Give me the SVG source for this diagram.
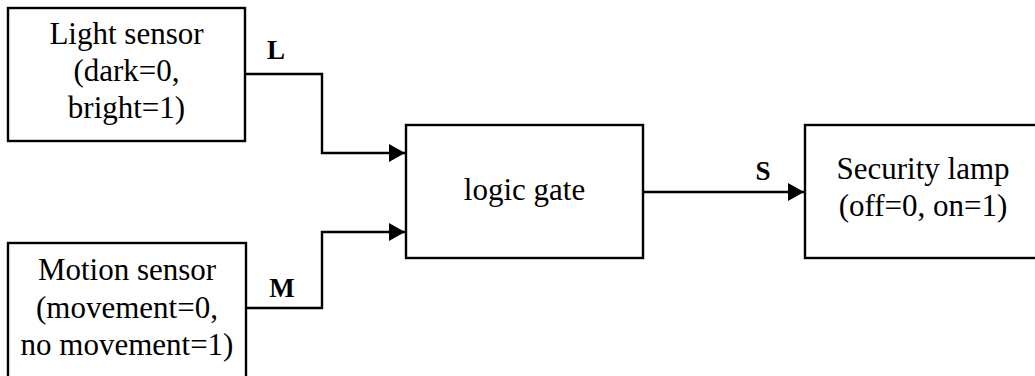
<svg xmlns="http://www.w3.org/2000/svg" width="1035" height="376" viewBox="0 0 1035 376">
<style>
.box{fill:#fff;stroke:#000;stroke-width:2.4}
.t{font-size:31px;fill:#000;text-anchor:middle}
.lbl{font-size:27px;font-weight:bold;fill:#000;text-anchor:middle}
.wire{fill:none;stroke:#000;stroke-width:2.4}
</style>
<defs>
<marker id="arr" markerUnits="userSpaceOnUse" markerWidth="17" markerHeight="18" refX="16" refY="9" orient="auto">
<path d="M0,0 L16,9 L0,18 Z" fill="#000"/>
</marker>
</defs>
<rect width="1035" height="376" fill="#fff"/>
<g font-family="Liberation Serif, Times New Roman, serif">
<g id="light">
<rect class="box" x="8" y="8" width="237" height="133"/>
<text class="t" x="126.5" y="44">Light sensor</text>
<text class="t" x="126.5" y="81">(dark=0,</text>
<text class="t" x="126.5" y="118">bright=1)</text>
</g>
<g id="motion">
<rect class="box" x="8" y="243" width="238" height="140"/>
<text class="t" x="127" y="280">Motion sensor</text>
<text class="t" x="127" y="318">(movement=0,</text>
<text class="t" x="127" y="355">no movement=1)</text>
</g>
<g id="gate">
<rect class="box" x="406" y="125" width="237" height="133"/>
<text class="t" x="524.5" y="200">logic gate</text>
</g>
<g id="lamp">
<rect class="box" x="805" y="125" width="236" height="133"/>
<text class="t" x="923" y="179">Security lamp</text>
<text class="t" x="923" y="216">(off=0, on=1)</text>
</g>
<g id="connectors">
<polyline class="wire" points="245,74 322,74 322,153 405,153" marker-end="url(#arr)"/>
<polyline class="wire" points="246,308 322,308 322,232 405,232" marker-end="url(#arr)"/>
<polyline class="wire" points="643,192 804,192" marker-end="url(#arr)"/>
<text class="lbl" x="276" y="59">L</text>
<text class="lbl" x="282" y="297">M</text>
<text class="lbl" x="763" y="180">S</text>
</g>
</g>
</svg>
